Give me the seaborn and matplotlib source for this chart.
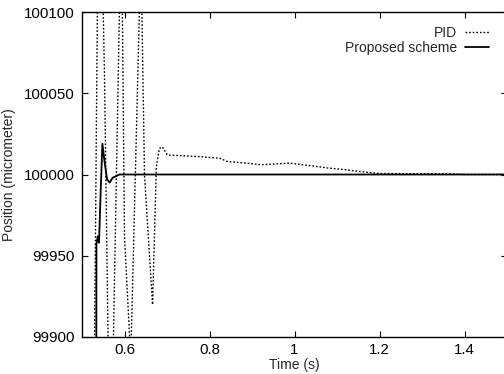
import numpy as np
import pandas as pd
import matplotlib
matplotlib.use("Agg")
import matplotlib.pyplot as plt
import seaborn as sns

# PID response (peaks/troughs beyond the axes are estimates)
pid_t = [0.528, 0.541, 0.547, 0.553, 0.569, 0.574, 0.588, 0.591, 0.595, 0.600,
         0.612, 0.614, 0.616, 0.635, 0.638, 0.641, 0.647, 0.666, 0.675, 0.682,
         0.689, 0.701, 0.776, 0.824, 0.842, 0.887, 0.922, 0.988, 1.035, 1.078,
         1.118, 1.148, 1.200, 1.365, 1.400, 1.500]
pid_pos = [99850, 100250, 100140, 100060, 99750, 99900, 100100, 100250, 100100, 99962,
           99900, 99800, 99900, 100100, 100200, 100100, 100000, 99920, 100005, 100016,
           100017, 100012, 100011, 100010, 100008, 100007, 100006, 100007, 100005.5, 100004,
           100003, 100002, 100000.6, 100000.4, 100000, 100000]

# proposed scheme response
prop_t = [0.5335, 0.534, 0.537, 0.540, 0.544, 0.548, 0.553, 0.559, 0.565, 0.572, 0.588, 1.500]
prop_pos = [99850, 99957, 99962, 99958, 99990, 100019, 100008, 99997, 99995, 99998, 100000, 100000]

x_ticks = [0.6, 0.8, 1.0, 1.2, 1.4]
x_tick_labels = ["0.6", "0.8", "1", "1.2", "1.4"]
y_ticks = [99900, 99950, 100000, 100050, 100100]

pid_df = pd.DataFrame({"t": pid_t, "pos": pid_pos})
prop_df = pd.DataFrame({"t": prop_t, "pos": prop_pos})

sns.set_theme(style="ticks")
plt.rcParams["font.family"] = ["Liberation Sans", "DejaVu Sans"]

fig = plt.figure(figsize=(5.04, 3.74), dpi=100)
ax = fig.add_axes([82 / 504, 37 / 374, 425 / 504, 325 / 374])

sns.lineplot(data=pid_df, x="t", y="pos", ax=ax, color="black", lw=1.0,
             sort=False, estimator=None, label="PID", dashes=False)
ax.lines[-1].set_dashes((1.2, 1.4))
sns.lineplot(data=prop_df, x="t", y="pos", ax=ax, color="black", lw=1.3,
             sort=False, estimator=None, label="Proposed scheme")

ax.set_xlim(0.5, 1.5)
ax.set_ylim(99900, 100100)
ax.set_xticks(x_ticks)
ax.set_xticklabels(x_tick_labels)
ax.set_yticks(y_ticks)
ax.set_yticklabels([str(v) for v in y_ticks])
ax.tick_params(direction="in", length=4, width=0.8, top=True, right=True,
               labelsize=10.8, colors="black", pad=5)
ax.tick_params(axis="x", pad=4)
for s in ax.spines.values():
    s.set_color("black")
    s.set_linewidth(1.0)

ax.set_xlabel("Time (s)", fontsize=10, labelpad=1)
ax.set_ylabel("Position (micrometer)", fontsize=10, labelpad=6)

leg = ax.legend(loc="upper right", bbox_to_anchor=(0.97, 0.975), frameon=False,
                markerfirst=False, fontsize=10, handlelength=1.7, handletextpad=0.6,
                labelspacing=0.1, borderaxespad=0)

fig.savefig("out.png", dpi=100)
